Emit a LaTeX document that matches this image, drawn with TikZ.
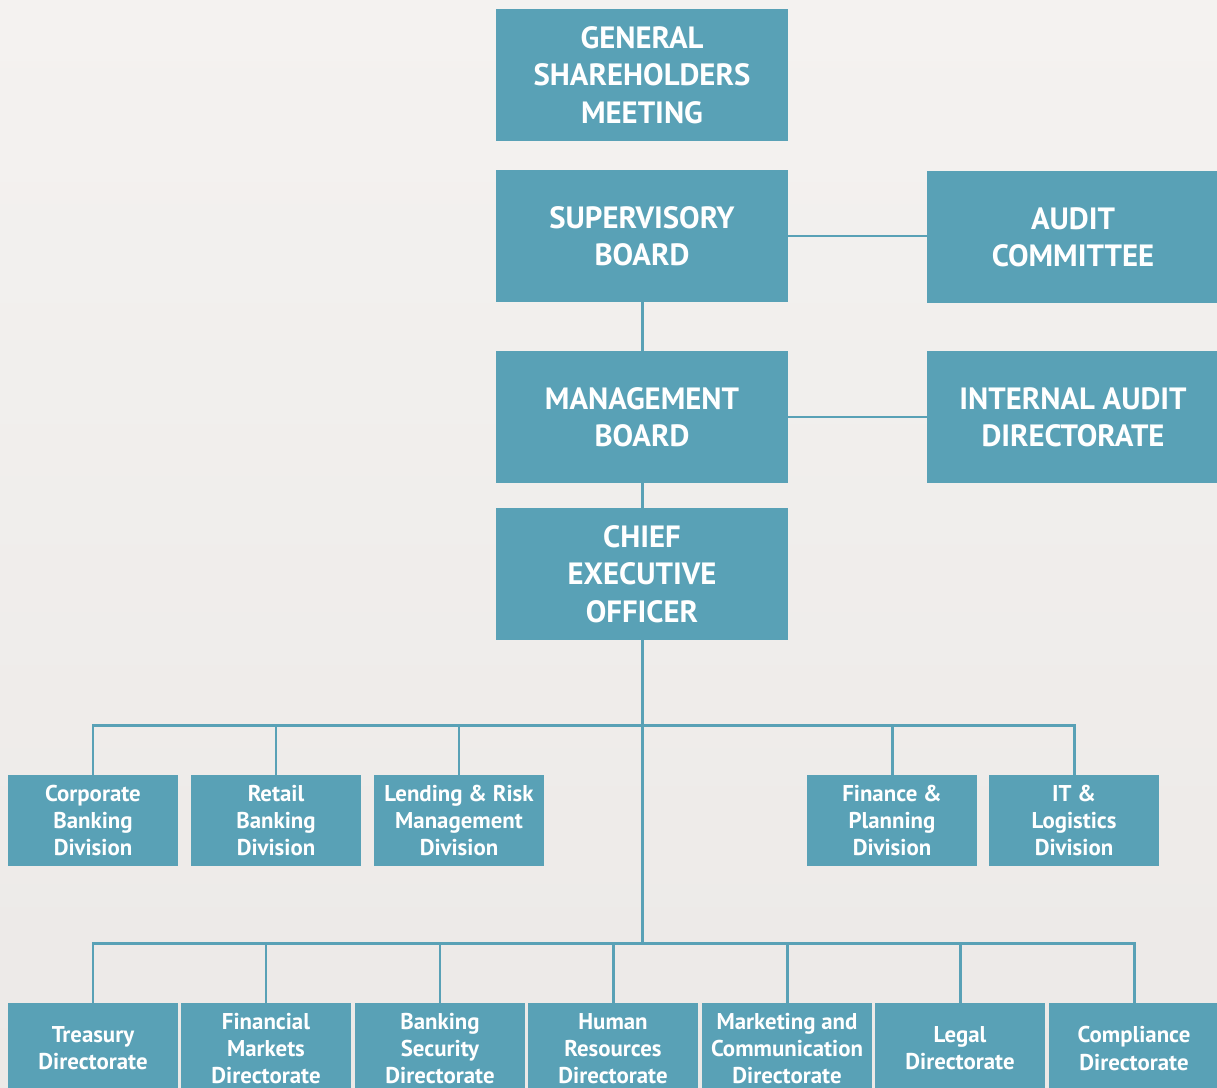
\documentclass[tikz,border=0pt]{standalone}
\usepackage{fontspec}
\setmainfont{PT Sans}
\usetikzlibrary{positioning}
\definecolor{boxblue}{HTML}{59A1B6}
\definecolor{bgtop}{HTML}{F4F2F0}
\definecolor{bgbot}{HTML}{ECE9E7}

\begin{document}
\begin{tikzpicture}[x=0.02cm, y=-0.02cm,
	bigbox/.style={fill=boxblue, text=white, minimum width=5.84cm, minimum height=2.64cm, align=center, inner sep=0pt, font=\bfseries\fontsize{17.5}{21.2}\selectfont},
	smallbox/.style={fill=boxblue, text=white, minimum width=3.4cm, minimum height=1.82cm, align=center, inner sep=0pt, font=\bfseries\fontsize{13}{15.4}\selectfont},
	link/.style={draw=boxblue, line width=1.7pt}]
	\clip (0,0) rectangle (1217,1088);
	\shade[top color=bgtop, bottom color=bgbot] (0,0) rectangle (1217,1088); % hintergrund
	
	% leitung
	\node[bigbox] (gsm) at (642,75) {GENERAL\\SHAREHOLDERS\\MEETING};
	\node[bigbox] (sb) at (642,236) {SUPERVISORY\\BOARD};
	\node[bigbox] (ac) at (1073,237) {AUDIT\\COMMITTEE};
	\node[bigbox] (mb) at (642,417) {MANAGEMENT\\BOARD};
	\node[bigbox] (iad) at (1073,417) {INTERNAL AUDIT\\DIRECTORATE};
	\node[bigbox] (ceo) at (642,574) {CHIEF\\EXECUTIVE\\OFFICER};
	
	% divisionen
	\foreach \n/\x/\t in {cbd/93/{Corporate\\Banking\\Division}, rbd/276/{Retail\\Banking\\Division}, lrd/459/{Lending \& Risk\\Management\\Division}, fpd/892/{Finance \&\\Planning\\Division}, itd/1074/{IT \&\\Logistics\\Division}}
		\node[smallbox] (\n) at (\x,820.5) {\t};
	
	% direktorate
	\foreach \n/\x/\t in {trd/93/{Treasury\\Directorate}, fmd/266/{Financial\\Markets\\Directorate}, bsd/440/{Banking\\Security\\Directorate}, hrd/613/{Human\\Resources\\Directorate}, mcd/787/{Marketing and\\Communication\\Directorate}, lgd/960/{Legal\\Directorate}, cpd/1134/{Compliance\\Directorate}}
		\node[smallbox] (\n) at (\x,1048.5) {\t};
	
	% verbindungen
	\draw[link] (sb.east) -- (sb.east -| ac.west);
	\draw[link] (sb) -- (mb);
	\draw[link] (mb.east) -- (mb.east -| iad.west);
	\draw[link] (mb) -- (ceo);
	
	\coordinate (divbus) at (642,725);
	\coordinate (dirbus) at (642,943);
	\draw[link] (ceo.south) -- (dirbus);
	
	\draw[link] (cbd.north) |- (itd.north |- divbus) -- (itd.north);
	\foreach \n in {rbd,lrd,fpd}
		\draw[link] (divbus -| \n.north) -- (\n.north);
	
	\draw[link] (trd.north) |- (cpd.north |- dirbus) -- (cpd.north);
	\foreach \n in {fmd,bsd,hrd,mcd,lgd}
		\draw[link] (dirbus -| \n.north) -- (\n.north);
\end{tikzpicture}
\end{document}
